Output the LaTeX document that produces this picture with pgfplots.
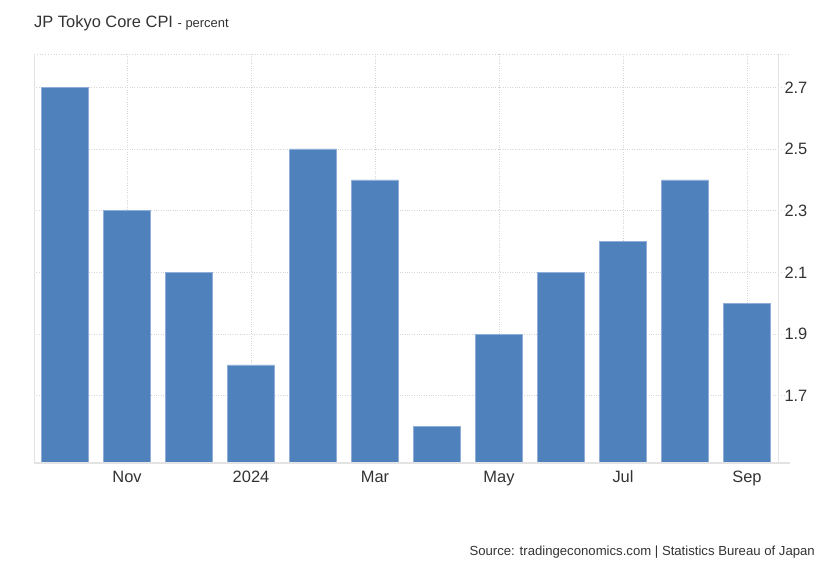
\documentclass[border=0pt]{standalone}
\usepackage{fontspec}
\setmainfont{Liberation Sans}
\usepackage{pgfplots}
\pgfplotsset{compat=1.18}
\definecolor{barblue}{HTML}{4F81BD}
\definecolor{baredge}{HTML}{8FAEDA}
\definecolor{gridgray}{HTML}{D6D6D6}
\definecolor{axisgray}{HTML}{E3E3E3}
\definecolor{txt}{HTML}{333333}
\begin{document}
\begin{tikzpicture}[x=1bp,y=1bp]
\path[use as bounding box] (0,0) rectangle (830,567);
\begin{axis}[
    at={(34bp,104bp)}, anchor=south west,
    scale only axis, width=744bp, height=409bp,
    ybar, bar width=0.75,
    xmin=-0.5, xmax=11.5, ymin=1.482, ymax=2.808,
    xtick={1,3,5,7,9,11},
    xticklabels={Nov,2024,Mar,May,Jul,Sep},
    ytick={1.7,1.9,2.1,2.3,2.5,2.7},
    yticklabel pos=right,
    yticklabel style={/pgf/number format/fixed, /pgf/number format/precision=1,
        /pgf/number format/fixed zerofill, anchor=west, xshift=3bp},
    /pgf/number format/assume math mode=true,
    tick label style={font=\fontsize{16.5}{19}\selectfont, text=txt},
    xticklabel style={yshift=-9bp, text height=0.72em, text depth=0.22em},
    major tick length=0pt,
    axis line style={draw=none},
    grid=major,
    major grid style={gridgray, dotted, line width=0.8bp},
    clip=false,
]
\addplot[fill=barblue, draw=baredge, line width=0.6bp] coordinates {
    (0,2.7) (1,2.3) (2,2.1) (3,1.8) (4,2.5) (5,2.4)
    (6,1.6) (7,1.9) (8,2.1) (9,2.2) (10,2.4) (11,2.0)
};
\foreach \v in {1.7,1.9,2.1,2.3,2.5,2.7} {
    \edef\tmp{\noexpand\draw[gridgray, dotted, line width=0.8bp] (axis cs:11.5,\v) -- ++(6bp,0bp);}
    \tmp
}
\draw[gridgray, dotted, line width=0.8bp] (rel axis cs:0,1) -- (rel axis cs:1,1) -- ++(12bp,0bp);
\draw[axisgray, line width=1bp] (rel axis cs:0,0) -- (rel axis cs:0,1);
\draw[axisgray, line width=1bp] (rel axis cs:1,0) -- (rel axis cs:1,1);
\draw[axisgray, line width=2bp] (rel axis cs:0,0) -- (rel axis cs:1,0) -- ++(12bp,0bp);
\end{axis}
\node[anchor=base west, inner sep=0, text=txt] at (34,539)
    {\fontsize{16.5}{19}\selectfont JP Tokyo Core CPI \fontsize{13}{15}\selectfont - percent};
\node[anchor=base east, inner sep=0, text=txt] at (815,11.5)
    {\fontsize{13.2}{16}\selectfont Source: tradingeconomics.com | Statistics Bureau of Japan};
\end{tikzpicture}
\end{document}
